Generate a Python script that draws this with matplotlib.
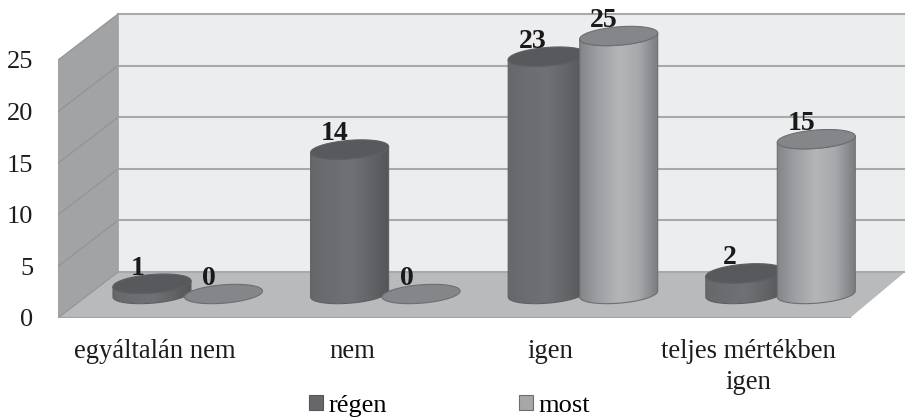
import numpy as np
import matplotlib
matplotlib.use('Agg')
import matplotlib.pyplot as plt
from matplotlib.colors import LinearSegmentedColormap
from matplotlib.patches import PathPatch, Polygon
from matplotlib.path import Path

categories = ['egyáltalán nem', 'nem', 'igen', 'teljes mértékben\nigen']
series_names = ['régen', 'most']
regen = [1, 14, 23, 2]
most = [0, 0, 25, 15]
y_ticks = [0, 5, 10, 15, 20, 25]

plt.rcParams['font.family'] = ['Liberation Serif', 'DejaVu Serif']

# pixel scale of the picture
W, H = 905, 417
PX_X = 197.6  # one category
PX_Y = 10.32  # one unit of value
LEFT_PX, FLOOR_PX = 58, 318
X0_PX = 187.75  # centre of the first group

# 3d look, in data units
DEPTH_X = 60 / PX_X
DEPTH_Y = 46 / PX_Y
BASE = 24 / PX_Y
BAR_OFF = 35.75 / PX_X
RX = 39 / PX_X
RY = 9.2 / PX_Y
TILT = 3 / PX_Y

dark_cmap = LinearSegmentedColormap.from_list('dark', ['#67686b', '#6c6d70', '#707174', '#646568', '#55565a'])
light_cmap = LinearSegmentedColormap.from_list('light', ['#85868a', '#a0a1a4', '#b4b5b7', '#a8a9ac', '#7c7d80'])
top_colors = ['#58595c', '#85868a']
edge_colors = ['#5e5f62', '#6d6e71']


def ellipse_xy(cx, cy, t):
    return cx + RX * np.cos(t), cy + RY * np.sin(t) + TILT * np.cos(t)


def draw_cylinder(ax, cx, value, cmap, top_color, edge_color, z):
    top = BASE + value
    if value > 0:
        # body: bottom half of the base ellipse, then up the far side
        t = np.linspace(np.pi, 2 * np.pi, 60)
        bx, by = ellipse_xy(cx, BASE, t)
        tx, ty = ellipse_xy(cx, top, t[::-1])
        body = Polygon(np.column_stack([np.r_[bx, tx], np.r_[by, ty]]), closed=True,
                       facecolor='none', edgecolor=edge_color, linewidth=0.8, zorder=z + 0.1)
        ax.add_patch(body)
        im = ax.imshow(np.linspace(0, 1, 100)[None, :], cmap=cmap, aspect='auto',
                       extent=(cx - RX, cx + RX, BASE - RY, top + RY), zorder=z)
        im.set_clip_path(body)
    t = np.linspace(0, 2 * np.pi, 120)
    ex, ey = ellipse_xy(cx, top, t)
    ax.add_patch(PathPatch(Path(np.column_stack([ex, ey])), facecolor=top_color,
                           edgecolor=edge_color, linewidth=0.8, zorder=z + 0.2))


fig = plt.figure(figsize=(W / 100, H / 100), dpi=100, facecolor='white')
ax = fig.add_axes([LEFT_PX / W, 1 - FLOOR_PX / H, 1 - LEFT_PX / W, FLOOR_PX / H])
x_min = (LEFT_PX - X0_PX) / PX_X
x_max = (W - X0_PX) / PX_X
y_max = FLOOR_PX / PX_Y
grid_top = 25

# walls and floor
x_front_right = (850 - X0_PX) / PX_X
ax.add_patch(Polygon([(x_min + DEPTH_X, DEPTH_Y), (x_max + 0.1, DEPTH_Y), (x_max + 0.1, grid_top + DEPTH_Y),
                      (x_min + DEPTH_X, grid_top + DEPTH_Y)], facecolor='#ecedee', edgecolor='none', zorder=1))
ax.add_patch(Polygon([(x_min, 0), (x_min + DEPTH_X, DEPTH_Y), (x_min + DEPTH_X, grid_top + DEPTH_Y),
                      (x_min, grid_top)], facecolor='#a2a3a5', edgecolor='none', zorder=1))
ax.add_patch(Polygon([(x_min, 0), (x_min + DEPTH_X, DEPTH_Y), (x_max, DEPTH_Y), (x_front_right, 0)],
                     facecolor='#b9babc', edgecolor='none', zorder=1))
for v in y_ticks:
    ax.plot([x_min + DEPTH_X, x_max], [v + DEPTH_Y, v + DEPTH_Y], color='#a8a9ab', lw=1.5, zorder=2)
    ax.plot([x_min, x_min + DEPTH_X], [v, v + DEPTH_Y], color='#919294', lw=0.8, zorder=2)
ax.plot([x_min + DEPTH_X, x_min + DEPTH_X], [DEPTH_Y, grid_top + DEPTH_Y], color='#a0a1a3', lw=1.2, zorder=2)
ax.plot([x_min, x_front_right], [0, 0], color='#a3a4a6', lw=1.6, zorder=2)

# cylinders, left to right so the later ones cover the earlier ones
for i in range(len(categories)):
    for j, (vals, cmap) in enumerate([(regen, dark_cmap), (most, light_cmap)]):
        cx = i + (j * 2 - 1) * BAR_OFF
        z = 3 + i + j * 0.5
        draw_cylinder(ax, cx, vals[i], cmap, top_colors[j], edge_colors[j], z)
        ax.annotate(str(vals[i]), (cx, BASE + vals[i]), xytext=(-10.5, 6.5), textcoords='offset points',
                    ha='center', va='baseline', fontsize=20, fontweight='bold', color='#1a1a1a', zorder=20)

ax.set_xlim(x_min, x_max)
ax.set_ylim(0, y_max)
ax.set_xticks(np.arange(len(categories)) - 32.6 / PX_X, categories, fontsize=19.2, color='#1c1c1c',
              linespacing=1.3)
ax.set_yticks(y_ticks, [str(v) for v in y_ticks], fontsize=19, color='#1c1c1c')
ax.tick_params(axis='x', length=0, pad=15)
ax.tick_params(axis='y', length=0, pad=18)
for s in ax.spines.values():
    s.set_visible(False)

# legend
handles = [plt.Rectangle((0, 0), 1, 1, facecolor='#66676a', edgecolor='#55565a', linewidth=0.8),
           plt.Rectangle((0, 0), 1, 1, facecolor='#a6a7a9', edgecolor='#6d6e71', linewidth=0.8)]
fig.legend(handles, series_names, ncol=2, frameon=False, fontsize=19, loc='lower left',
           bbox_to_anchor=(309 / W, 0.0), borderpad=0, borderaxespad=0, handlelength=0.53,
           handleheight=0.53, handletextpad=0.2, columnspacing=5.01)

fig.savefig('out.png', dpi=100)
